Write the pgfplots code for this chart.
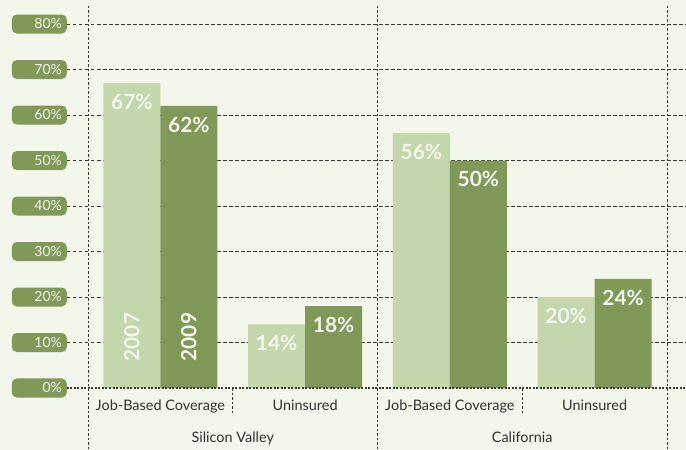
\documentclass[border=0pt]{standalone}
\usepackage{pgfplots}
\pgfplotsset{compat=1.18}
\usepackage{fontspec}
\setmainfont{Lato}

\definecolor{bgcol}{HTML}{F3F6EA}
\definecolor{lightbar}{HTML}{C4D6AB}
\definecolor{darkbar}{HTML}{809858}
\definecolor{gridcol}{HTML}{3A3A3A}
\definecolor{labtxt}{HTML}{F4F6EE}
\definecolor{axtxt}{HTML}{333333}

\begin{document}
\begin{tikzpicture}
\useasboundingbox (0,0) rectangle (686bp,450bp);
\fill[bgcol] (0,0) rectangle (686bp,450bp);
\begin{axis}[
  at={(88bp,62bp)}, anchor=south west,
  scale only axis, width=579bp, height=364bp,
  xmin=-0.5, xmax=3.5, ymin=0, ymax=80,
  clip=false,
  axis line style={draw=none}, major tick length=0pt,
  ybar=0pt, bar width=57bp,
  ytick={0,10,...,80},
  yticklabels={0\%,10\%,20\%,30\%,40\%,50\%,60\%,70\%,80\%},
  yticklabel style={anchor=east, xshift=-21bp, fill=darkbar, text=labtxt,
    rounded corners=5bp, text width=45bp, align=right, inner xsep=5bp,
    minimum height=19bp, font=\fontsize{14}{16}\selectfont},
  xtick={0,1,2,3},
  xticklabels={Job-Based Coverage,Uninsured,Job-Based Coverage,Uninsured},
  xticklabel style={anchor=base, yshift=-22bp, text=axtxt,
    font=\fontsize{14.5}{16}\selectfont},
  /pgf/number format/assume math mode=true,
  nodes near coords={\pgfmathprintnumber{\pgfplotspointmeta}\%},
  every node near coord/.append style={anchor=north, inner sep=0pt, yshift=-11bp,
    text=labtxt, font=\fontsize{21}{24}\selectfont\bfseries},
]
% grid lines behind the bars
\pgfplotsinvokeforeach{10,20,...,80}{
  \draw[gridcol, line width=1bp, dash pattern=on 3.5bp off 2.5bp]
    ([xshift=-21bp]axis cs:-0.5,#1) -- ([xshift=19bp]axis cs:3.5,#1);
}
\pgfplotsinvokeforeach{-0.5,1.5,3.5}{
  \draw[gridcol, line width=1bp, dash pattern=on 2.5bp off 2bp]
    (axis cs:#1,84) -- (axis cs:#1,-13.7);
}
\pgfplotsinvokeforeach{0.5,2.5}{
  \draw[gridcol, line width=1bp, dash pattern=on 2.5bp off 2bp]
    (axis cs:#1,0) -- (axis cs:#1,-5.5);
}

\addplot[fill=lightbar, draw=none] coordinates {(0,67) (1,14) (2,56) (3,20)};
\addplot[fill=darkbar, draw=none] coordinates {(0,62) (1,18) (2,50) (3,24)};

\draw[gridcol, line width=2bp, dash pattern=on 2bp off 1.5bp]
  ([xshift=-21bp]axis cs:-0.5,0) -- ([xshift=19bp]axis cs:3.5,0);

\node[rotate=90, text=labtxt, font=\fontsize{21}{24}\selectfont\bfseries]
  at (axis cs:-0.197,11.2) {2007};
\node[rotate=90, text=labtxt, font=\fontsize{21}{24}\selectfont\bfseries]
  at (axis cs:0.197,11.2) {2009};

\node[anchor=base, text=axtxt, font=\fontsize{14.5}{16}\selectfont]
  at ([yshift=-54bp]axis cs:0.5,0) {Silicon Valley};
\node[anchor=base, text=axtxt, font=\fontsize{14.5}{16}\selectfont]
  at ([yshift=-54bp]axis cs:2.5,0) {California};
\end{axis}
\end{tikzpicture}
\end{document}
